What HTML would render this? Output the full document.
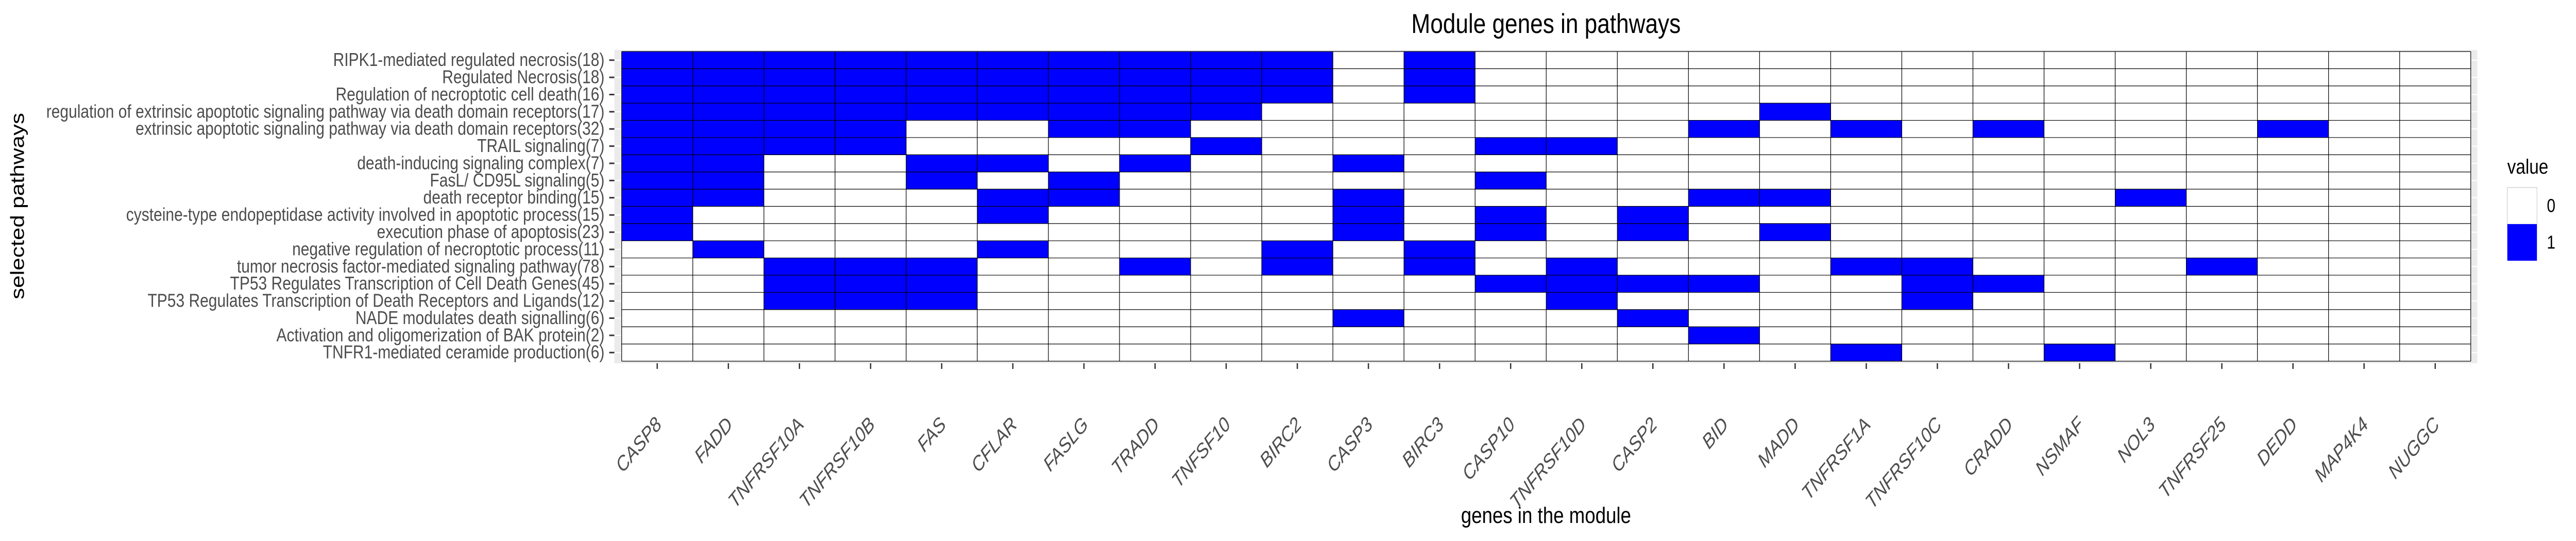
<!DOCTYPE html>
<html><head><meta charset="utf-8"><style>
html,body{margin:0;padding:0;background:#fff;width:100%;height:100%;overflow:hidden;}
svg{display:block;width:100vw;height:100vh;font-family:"Liberation Sans",Arial,sans-serif;}
</style></head><body>
<svg viewBox="0 0 6000 1050" preserveAspectRatio="none" xmlns="http://www.w3.org/2000/svg">
<rect x="0" y="0" width="6000" height="1050" fill="#fff"/>
<text x="3601" y="64" font-size="53" text-anchor="middle" fill="#000">Module genes in pathways</text>
<rect x="1431" y="97" width="4339" height="608" fill="#EBEBEB"/>
<g transform="translate(1448,100) scale(165.65,33.39)">
<rect x="0" y="0" width="26" height="18" fill="#fff"/>
<g fill="#0000FF">
<rect x="0" y="0" width="10" height="3"/><rect x="11" y="0" width="1" height="3"/>
<rect x="0" y="3" width="9" height="1"/><rect x="16" y="3" width="1" height="1"/>
<rect x="0" y="4" width="4" height="1"/><rect x="6" y="4" width="2" height="1"/><rect x="15" y="4" width="1" height="1"/><rect x="17" y="4" width="1" height="1"/><rect x="19" y="4" width="1" height="1"/><rect x="23" y="4" width="1" height="1"/>
<rect x="0" y="5" width="4" height="1"/><rect x="8" y="5" width="1" height="1"/><rect x="12" y="5" width="2" height="1"/>
<rect x="0" y="6" width="2" height="1"/><rect x="4" y="6" width="2" height="1"/><rect x="7" y="6" width="1" height="1"/><rect x="10" y="6" width="1" height="1"/>
<rect x="0" y="7" width="2" height="1"/><rect x="4" y="7" width="1" height="1"/><rect x="6" y="7" width="1" height="1"/><rect x="12" y="7" width="1" height="1"/>
<rect x="0" y="8" width="2" height="1"/><rect x="5" y="8" width="2" height="1"/><rect x="10" y="8" width="1" height="1"/><rect x="15" y="8" width="2" height="1"/><rect x="21" y="8" width="1" height="1"/>
<rect x="0" y="9" width="1" height="1"/><rect x="5" y="9" width="1" height="1"/><rect x="10" y="9" width="1" height="1"/><rect x="12" y="9" width="1" height="1"/><rect x="14" y="9" width="1" height="1"/>
<rect x="0" y="10" width="1" height="1"/><rect x="10" y="10" width="1" height="1"/><rect x="12" y="10" width="1" height="1"/><rect x="14" y="10" width="1" height="1"/><rect x="16" y="10" width="1" height="1"/>
<rect x="1" y="11" width="1" height="1"/><rect x="5" y="11" width="1" height="1"/><rect x="9" y="11" width="1" height="1"/><rect x="11" y="11" width="1" height="1"/>
<rect x="2" y="12" width="3" height="1"/><rect x="7" y="12" width="1" height="1"/><rect x="9" y="12" width="1" height="1"/><rect x="11" y="12" width="1" height="1"/><rect x="13" y="12" width="1" height="1"/><rect x="17" y="12" width="2" height="1"/><rect x="22" y="12" width="1" height="1"/>
<rect x="2" y="13" width="3" height="1"/><rect x="12" y="13" width="4" height="1"/><rect x="18" y="13" width="2" height="1"/>
<rect x="2" y="14" width="3" height="1"/><rect x="13" y="14" width="1" height="1"/><rect x="18" y="14" width="1" height="1"/>
<rect x="10" y="15" width="1" height="1"/><rect x="14" y="15" width="1" height="1"/>
<rect x="15" y="16" width="1" height="1"/>
<rect x="17" y="17" width="1" height="1"/><rect x="20" y="17" width="1" height="1"/>
</g>
<g stroke="#000" stroke-width="1.2" fill="none">
<path vector-effect="non-scaling-stroke" d="M0 0V18M1 0V18M2 0V18M3 0V18M4 0V18M5 0V18M6 0V18M7 0V18M8 0V18M9 0V18M10 0V18M11 0V18M12 0V18M13 0V18M14 0V18M15 0V18M16 0V18M17 0V18M18 0V18M19 0V18M20 0V18M21 0V18M22 0V18M23 0V18M24 0V18M25 0V18M26 0V18"/>
<path vector-effect="non-scaling-stroke" d="M0 0H26M0 1H26M0 2H26M0 3H26M0 4H26M0 5H26M0 6H26M0 7H26M0 8H26M0 9H26M0 10H26M0 11H26M0 12H26M0 13H26M0 14H26M0 15H26M0 16H26M0 17H26M0 18H26"/>
</g>
</g>
<g stroke="#fff" stroke-width="2">
<path d="M1431 116.7H1447M1431 150.1H1447M1431 183.5H1447M1431 216.9H1447M1431 250.3H1447M1431 283.6H1447M1431 317H1447M1431 350.4H1447M1431 383.8H1447M1431 417.2H1447M1431 450.6H1447M1431 484H1447M1431 517.4H1447M1431 550.8H1447M1431 584.2H1447M1431 617.5H1447M1431 650.9H1447M1431 684.3H1447"/>
<path d="M5756 116.7H5770M5756 150.1H5770M5756 183.5H5770M5756 216.9H5770M5756 250.3H5770M5756 283.6H5770M5756 317H5770M5756 350.4H5770M5756 383.8H5770M5756 417.2H5770M5756 450.6H5770M5756 484H5770M5756 517.4H5770M5756 550.8H5770M5756 584.2H5770M5756 617.5H5770M5756 650.9H5770M5756 684.3H5770"/>
</g>
<g stroke="#333" stroke-width="3">
<path d="M1419 116.7H1431M1419 150.1H1431M1419 183.5H1431M1419 216.9H1431M1419 250.3H1431M1419 283.6H1431M1419 317H1431M1419 350.4H1431M1419 383.8H1431M1419 417.2H1431M1419 450.6H1431M1419 484H1431M1419 517.4H1431M1419 550.8H1431M1419 584.2H1431M1419 617.5H1431M1419 650.9H1431M1419 684.3H1431"/>
</g>
<g font-size="36" fill="#4D4D4D" text-anchor="end" dominant-baseline="central">
<text x="1408" y="116.7">RIPK1-mediated regulated necrosis(18)</text>
<text x="1408" y="150.1">Regulated Necrosis(18)</text>
<text x="1408" y="183.5">Regulation of necroptotic cell death(16)</text>
<text x="1408" y="216.9">regulation of extrinsic apoptotic signaling pathway via death domain receptors(17)</text>
<text x="1408" y="250.3">extrinsic apoptotic signaling pathway via death domain receptors(32)</text>
<text x="1408" y="283.6">TRAIL  signaling(7)</text>
<text x="1408" y="317">death-inducing signaling complex(7)</text>
<text x="1408" y="350.4">FasL/ CD95L signaling(5)</text>
<text x="1408" y="383.8">death receptor binding(15)</text>
<text x="1408" y="417.2">cysteine-type endopeptidase activity involved in apoptotic process(15)</text>
<text x="1408" y="450.6">execution phase of apoptosis(23)</text>
<text x="1408" y="484">negative regulation of necroptotic process(11)</text>
<text x="1408" y="517.4">tumor necrosis factor-mediated signaling pathway(78)</text>
<text x="1408" y="550.8">TP53 Regulates Transcription of Cell Death Genes(45)</text>
<text x="1408" y="584.2">TP53 Regulates Transcription of Death Receptors and Ligands(12)</text>
<text x="1408" y="617.5">NADE modulates death signalling(6)</text>
<text x="1408" y="650.9">Activation and oligomerization of BAK protein(2)</text>
<text x="1408" y="684.3">TNFR1-mediated ceramide production(6)</text>
</g>
<g stroke="#333" stroke-width="3">
<path d="M1530.8 705V716M1696.5 705V716M1862.1 705V716M2027.8 705V716M2193.4 705V716M2359.1 705V716M2524.7 705V716M2690.4 705V716M2856 705V716M3021.7 705V716M3187.3 705V716M3353 705V716M3518.6 705V716M3684.3 705V716M3849.9 705V716M4015.6 705V716M4181.2 705V716M4346.9 705V716M4512.5 705V716M4678.2 705V716M4843.8 705V716M5009.5 705V716M5175.1 705V716M5340.8 705V716M5506.4 705V716M5672.1 705V716"/>
</g>
<g font-size="40" font-style="italic" fill="#4D4D4D" text-anchor="end" dominant-baseline="hanging">
<text transform="translate(1523,806) rotate(-45)">CASP8</text>
<text transform="translate(1688.5,806) rotate(-45)">FADD</text>
<text transform="translate(1854.1,806) rotate(-45)">TNFRSF10A</text>
<text transform="translate(2019.8,806) rotate(-45)">TNFRSF10B</text>
<text transform="translate(2185.4,806) rotate(-45)">FAS</text>
<text transform="translate(2351.1,806) rotate(-45)">CFLAR</text>
<text transform="translate(2516.7,806) rotate(-45)">FASLG</text>
<text transform="translate(2682.4,806) rotate(-45)">TRADD</text>
<text transform="translate(2848,806) rotate(-45)">TNFSF10</text>
<text transform="translate(3013.7,806) rotate(-45)">BIRC2</text>
<text transform="translate(3179.3,806) rotate(-45)">CASP3</text>
<text transform="translate(3345,806) rotate(-45)">BIRC3</text>
<text transform="translate(3510.6,806) rotate(-45)">CASP10</text>
<text transform="translate(3676.3,806) rotate(-45)">TNFRSF10D</text>
<text transform="translate(3841.9,806) rotate(-45)">CASP2</text>
<text transform="translate(4007.6,806) rotate(-45)">BID</text>
<text transform="translate(4173.2,806) rotate(-45)">MADD</text>
<text transform="translate(4338.9,806) rotate(-45)">TNFRSF1A</text>
<text transform="translate(4504.5,806) rotate(-45)">TNFRSF10C</text>
<text transform="translate(4670.2,806) rotate(-45)">CRADD</text>
<text transform="translate(4835.8,806) rotate(-45)">NSMAF</text>
<text transform="translate(5001.5,806) rotate(-45)">NOL3</text>
<text transform="translate(5167.1,806) rotate(-45)">TNFRSF25</text>
<text transform="translate(5332.8,806) rotate(-45)">DEDD</text>
<text transform="translate(5498.4,806) rotate(-45)">MAP4K4</text>
<text transform="translate(5664.1,806) rotate(-45)">NUGGC</text>
</g>
<text x="3601" y="1015" font-size="44" text-anchor="middle" fill="#000">genes in the module</text>
<text transform="translate(56,400) rotate(-90)" font-size="44" text-anchor="middle" fill="#000">selected pathways</text>
<text x="5840" y="337" font-size="40" fill="#000">value</text>
<rect x="5840" y="364" width="69" height="71" fill="#fff" stroke="#bbb" stroke-width="1"/>
<rect x="5840" y="435" width="69" height="71" fill="#0000FF"/>
<text x="5932" y="400" font-size="36" fill="#000" dominant-baseline="central">0</text>
<text x="5932" y="471" font-size="36" fill="#000" dominant-baseline="central">1</text>
</svg>
</body></html>
